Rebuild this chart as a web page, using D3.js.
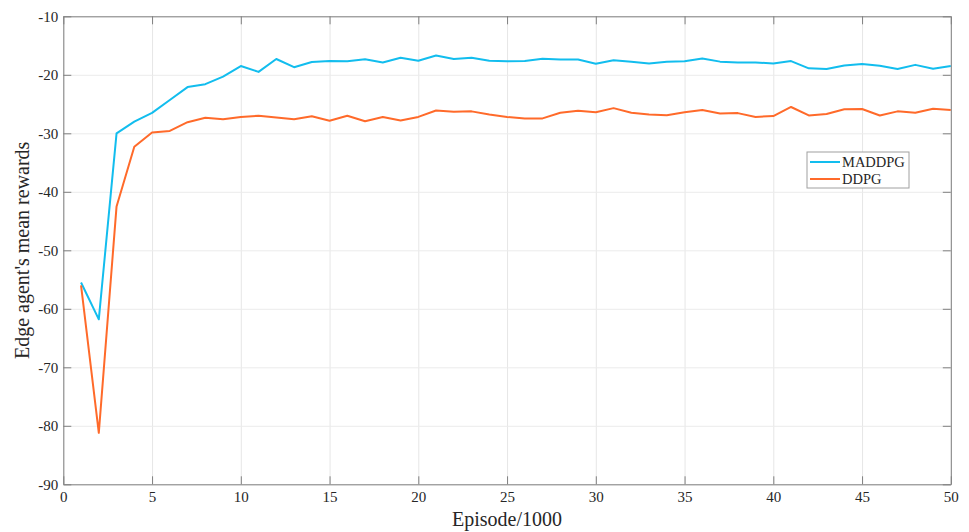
<!DOCTYPE html>
<html>
<head>
<meta charset="utf-8">
<script src="https://cdn.jsdelivr.net/npm/d3@7"></script>
<style>
  body { margin: 0; background: #fff; }
  text { font-family: "Liberation Serif", "Times New Roman", serif; fill: #262626; }
</style>
</head>
<body>
<div id="chart"></div>
<script>
// episodes (x1000)
const episodes = d3.range(1, 51);

const maddpg = [
  -55.5, -61.8, -30.0, -28.0, -26.5, -24.3, -22.1, -21.6, -20.3, -18.5,
  -19.5, -17.3, -18.7, -17.8, -17.65, -17.7, -17.35, -17.9, -17.1, -17.6,
  -16.7, -17.3, -17.1, -17.6, -17.7, -17.65, -17.25, -17.4, -17.4, -18.1,
  -17.5, -17.75, -18.05, -17.75, -17.7, -17.2, -17.75, -17.9, -17.9, -18.05,
  -17.65, -18.9, -19.0, -18.4, -18.15, -18.45, -19.0, -18.3, -18.95, -18.5
];

const ddpg = [
  -56.0, -81.2, -42.5, -32.3, -29.85, -29.6, -28.1, -27.35, -27.6, -27.2,
  -27.0, -27.3, -27.6, -27.1, -27.85, -27.0, -27.95, -27.2, -27.8, -27.2,
  -26.1, -26.3, -26.25, -26.8, -27.2, -27.45, -27.45, -26.5, -26.15, -26.4,
  -25.7, -26.5, -26.8, -26.9, -26.4, -26.0, -26.6, -26.55, -27.2, -27.05,
  -25.5, -26.95, -26.7, -25.9, -25.85, -26.95, -26.25, -26.5, -25.8, -26.0
];

const xTicks = d3.range(0, 51, 5);
const yTicks = d3.range(-90, -9, 10);

const seriesNames = ['MADDPG', 'DDPG'];
const seriesColors = ['#12bdee', '#ff6a2a'];

class LineChart {
  constructor(_config) {
    this.config = {
      parentElement: _config.parentElement,
      containerWidth: 969,
      containerHeight: 532,
      margin: {top: 16.3, right: 18.2, bottom: 47.7, left: 63.3}
    };
    this.initVis();
  }

  initVis() {
    let vis = this;
    vis.width = vis.config.containerWidth - vis.config.margin.left - vis.config.margin.right;
    vis.height = vis.config.containerHeight - vis.config.margin.top - vis.config.margin.bottom;

    vis.xScale = d3.scaleLinear().domain([0, 50]).range([0, vis.width]);
    vis.yScale = d3.scaleLinear().domain([-90, -10]).range([vis.height, 0]);

    vis.svg = d3.select(vis.config.parentElement).append('svg')
      .attr('width', vis.config.containerWidth)
      .attr('height', vis.config.containerHeight);

    vis.chart = vis.svg.append('g')
      .attr('transform', `translate(${vis.config.margin.left},${vis.config.margin.top})`);

    vis.renderVis();
  }

  renderVis() {
    let vis = this;
    const axisColor = '#808080';
    const fmt = d => String(d);   // plain hyphen minus like the original

    // grid lines
    vis.chart.append('g')
      .call(d3.axisBottom(vis.xScale).tickValues(xTicks).tickSize(vis.height).tickFormat(''))
      .call(g => g.select('.domain').remove())
      .selectAll('line').attr('stroke', '#e6e6e6');

    vis.chart.append('g')
      .call(d3.axisLeft(vis.yScale).tickValues(yTicks).tickSize(-vis.width).tickFormat(''))
      .call(g => g.select('.domain').remove())
      .selectAll('line').attr('stroke', '#ebebeb');

    // lines
    const line = d3.line()
      .x((d, i) => vis.xScale(episodes[i]))
      .y(d => vis.yScale(d));

    [maddpg, ddpg].forEach((s, k) => {
      vis.chart.append('path')
        .datum(s)
        .attr('fill', 'none')
        .attr('stroke', seriesColors[k])
        .attr('stroke-width', 2)
        .attr('stroke-linejoin', 'round')
        .attr('d', line);
    });

    // axes, ticks pointing inward like a boxed matlab plot
    const tickLen = 8;
    const xAxisG = vis.chart.append('g')
      .attr('transform', `translate(0,${vis.height})`)
      .call(d3.axisBottom(vis.xScale).tickValues(xTicks).tickFormat(fmt).tickSizeInner(-tickLen).tickSizeOuter(0).tickPadding(7));
    const yAxisG = vis.chart.append('g')
      .call(d3.axisLeft(vis.yScale).tickValues(yTicks).tickFormat(fmt).tickSizeInner(-tickLen).tickSizeOuter(0).tickPadding(5));
    const topAxisG = vis.chart.append('g')
      .call(d3.axisTop(vis.xScale).tickValues(xTicks).tickSizeInner(-tickLen).tickSizeOuter(0).tickFormat(''));
    const rightAxisG = vis.chart.append('g')
      .attr('transform', `translate(${vis.width},0)`)
      .call(d3.axisRight(vis.yScale).tickValues(yTicks).tickSizeInner(-tickLen).tickSizeOuter(0).tickFormat(''));

    [xAxisG, yAxisG, topAxisG, rightAxisG].forEach(g => {
      g.attr('font-family', '"Liberation Serif", "Times New Roman", serif')
        .attr('font-size', 15);
      g.selectAll('.domain, line').attr('stroke', axisColor);
      g.selectAll('text').attr('fill', '#262626');
    });

    // axis titles
    vis.svg.append('text')
      .attr('x', vis.config.margin.left + vis.width / 2)
      .attr('y', 526)
      .attr('text-anchor', 'middle')
      .style('font-size', '20px')
      .text('Episode/1000');

    vis.svg.append('text')
      .attr('transform', `translate(29,${vis.config.margin.top + vis.height / 2}) rotate(-90)`)
      .attr('text-anchor', 'middle')
      .style('font-size', '20px')
      .text("Edge agent's mean rewards");

    // legend
    const legend = vis.svg.append('g').attr('transform', 'translate(807,152)');
    legend.append('rect')
      .attr('width', 102)
      .attr('height', 36)
      .attr('fill', '#fff')
      .attr('stroke', '#a0a0a0')
      .attr('stroke-width', 1);

    seriesNames.forEach((name, k) => {
      const yy = 10 + k * 17;
      legend.append('line')
        .attr('x1', 3).attr('x2', 33)
        .attr('y1', yy).attr('y2', yy)
        .attr('stroke', seriesColors[k])
        .attr('stroke-width', 2);
      legend.append('text')
        .attr('x', 35)
        .attr('y', yy + 5)
        .style('font-size', '14.5px')
        .text(name);
    });
  }
}

new LineChart({parentElement: '#chart'});
</script>
</body>
</html>
